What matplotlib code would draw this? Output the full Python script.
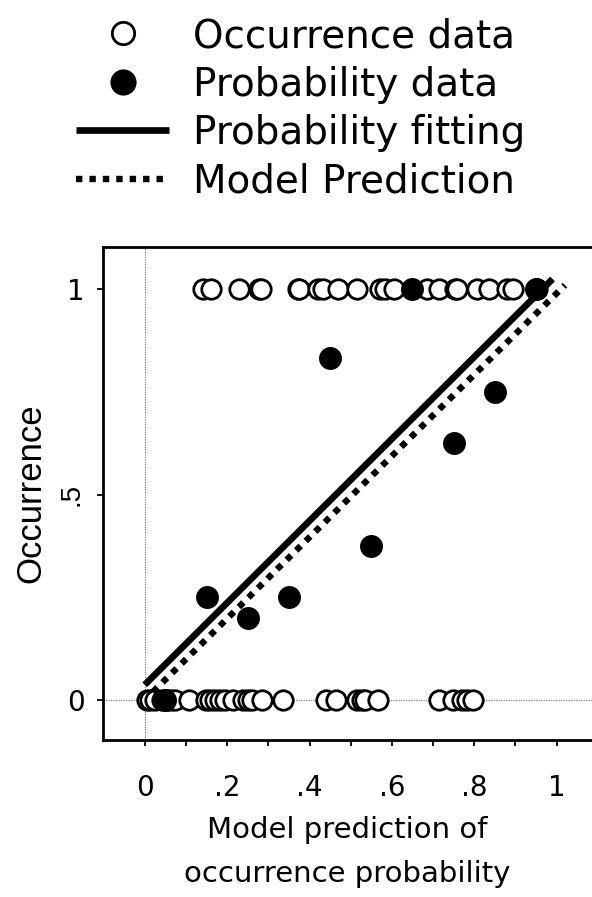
import numpy as np
import matplotlib
matplotlib.use('Agg')
import matplotlib.pyplot as plt
from matplotlib.ticker import FixedLocator, FixedFormatter

# Occurrence data (observed presence = 1 / absence = 0 vs model prediction)
occ1_x = [0.142, 0.161, 0.230, 0.278, 0.282, 0.371, 0.375, 0.421, 0.432, 0.468,
          0.515, 0.571, 0.583, 0.605, 0.684, 0.715, 0.754, 0.758, 0.806, 0.836,
          0.879, 0.895, 0.951]
occ0_x = [0.005, 0.013, 0.025, 0.041, 0.053, 0.065, 0.074, 0.108, 0.149, 0.159,
          0.171, 0.183, 0.195, 0.214, 0.239, 0.251, 0.260, 0.285, 0.335, 0.439,
          0.464, 0.515, 0.527, 0.535, 0.567, 0.715, 0.749, 0.769, 0.782, 0.798]

# Probability data (binned)
prob_x = [0.05, 0.15, 0.25, 0.35, 0.45, 0.55, 0.65, 0.75, 0.85, 0.95]
prob_y = [0.0, 0.25, 0.20, 0.25, 0.833, 0.375, 1.0, 0.625, 0.75, 1.0]

# Fitted line and model prediction (end points)
fit_x = [0.0, 0.99]
fit_y = [0.037, 1.025]
model_x = [0.02, 1.02]
model_y = [0.02, 1.01]

xtick_vals = [0, 0.1, 0.2, 0.3, 0.4, 0.5, 0.6, 0.7, 0.8, 0.9, 1]
xtick_labels = ['0', '', '.2', '', '.4', '', '.6', '', '.8', '', '1']
ytick_vals = [0, 0.5, 1]
ytick_labels = ['0', '.5', '1']

fig = plt.figure(figsize=(5.92, 8.97), dpi=100)
ax = fig.add_axes([0.1745, 0.175, 0.8255, 0.55])

# reference lines at 0
ax.axvline(0, color='grey', lw=0.9, ls=(0, (1, 1)), zorder=1)
ax.axhline(0, color='grey', lw=0.9, ls=(0, (1, 1)), zorder=1)

h_occ, = ax.plot(occ1_x + occ0_x, [1] * len(occ1_x) + [0] * len(occ0_x), 'o',
                 mfc='white', mec='black', ms=14, mew=2, ls='none', zorder=3,
                 label='Occurrence data')
h_prob, = ax.plot(prob_x, prob_y, 'o', color='black', ms=15.5, ls='none', zorder=4,
                  label='Probability data')
h_fit, = ax.plot(fit_x, fit_y, '-', color='black', lw=4.8, zorder=5,
                 solid_capstyle='butt', label='Probability fitting')
h_mod, = ax.plot(model_x, model_y, color='black', lw=4.6, ls=(0, (1, 1.1)), zorder=5,
                 label='Model Prediction')

ax.set_xlim(-0.1005, 1.0857)
ax.set_ylim(-0.0974, 1.1037)

ax.xaxis.set_major_locator(FixedLocator(xtick_vals))
ax.xaxis.set_major_formatter(FixedFormatter(xtick_labels))
ax.yaxis.set_major_locator(FixedLocator(ytick_vals))
ax.yaxis.set_major_formatter(FixedFormatter(ytick_labels))

ax.tick_params(axis='both', direction='out', length=4.5, width=1.3, labelsize=20)
ax.tick_params(axis='x', pad=20)
ax.tick_params(axis='y', pad=9)

for lab in ax.get_yticklabels():
    if lab.get_text() == '.5':
        lab.set_rotation(90)
        lab.set_va('center')
        lab.set_fontfamily('Liberation Sans')

for side in ['left', 'bottom', 'top']:
    ax.spines[side].set_linewidth(2)
ax.spines['right'].set_visible(False)

ax.set_xlabel('Model prediction of\noccurrence probability', fontsize=21,
              labelpad=10, linespacing=1.75)
ax.set_ylabel('Occurrence', fontsize=25, family='Liberation Sans', labelpad=8)

fig.legend(handles=[h_occ, h_prob, h_fit, h_mod], loc='upper left',
           bbox_to_anchor=(76 / 592, 1 - 17 / 897), frameon=False, fontsize=28,
           handlelength=2.4, handletextpad=0.6, labelspacing=0.27,
           borderpad=0, borderaxespad=0, numpoints=1, markerscale=1.15)

fig.savefig('out.png', dpi=100)
